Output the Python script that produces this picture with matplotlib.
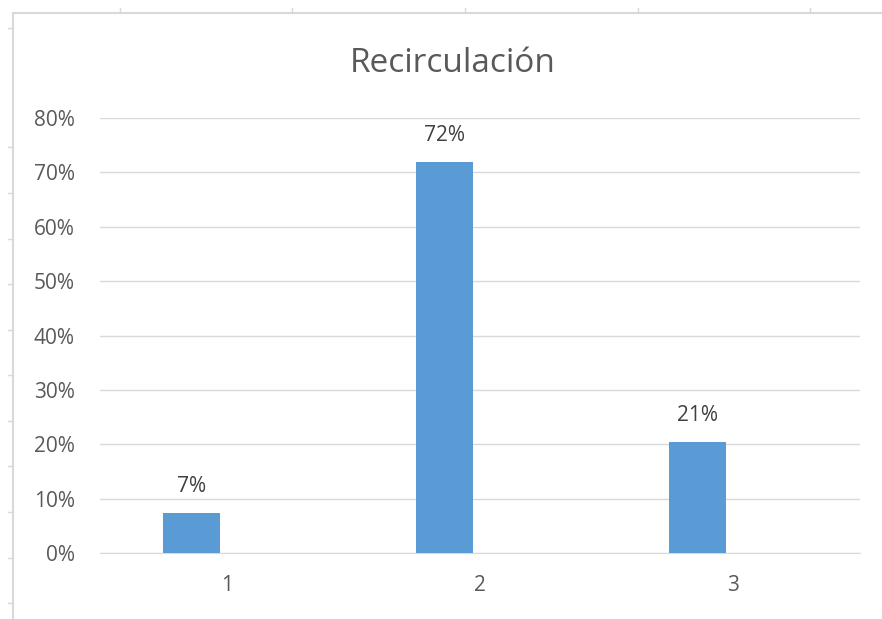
import matplotlib.pyplot as plt
from matplotlib.lines import Line2D

categories = ["1", "2", "3"]
values = [0.073, 0.72, 0.205]
value_labels = ["7%", "72%", "21%"]
y_ticks = [0.0, 0.1, 0.2, 0.3, 0.4, 0.5, 0.6, 0.7, 0.8]

W, H = 882, 619
fig = plt.figure(figsize=(W / 100, H / 100), dpi=100)
plt.rcParams['font.family'] = ['Open Sans', 'DejaVu Sans']

# spreadsheet background bits: chart border and row/column marks
grey = "#d9d9d9"
fig.add_artist(Line2D([13 / W, 1], [1 - 13 / H, 1 - 13 / H], color=grey, lw=1.5))
fig.add_artist(Line2D([13 / W, 13 / W], [0, 1 - 13 / H], color=grey, lw=1.5))
for cx in [120, 292, 465, 638, 810]:
    fig.add_artist(Line2D([cx / W, cx / W], [1 - 8 / H, 1 - 13 / H], color=grey, lw=1))
for ry in [28, 147, 193, 239, 284, 330, 375, 421, 466, 512, 558, 603]:
    fig.add_artist(Line2D([8 / W, 13 / W], [1 - ry / H, 1 - ry / H], color=grey, lw=1))

ax = fig.add_axes([100 / W, 66 / H, 760 / W, (553 - 118) / H])
x = list(range(len(categories)))
bar_x = [i - 0.14 for i in x]
bars = ax.bar(bar_x, values, width=0.225, color="#5B9BD5", zorder=3)

for b, lab in zip(bars, value_labels):
    ax.annotate(lab, (b.get_x() + b.get_width() / 2, b.get_height()),
                xytext=(0, 15), textcoords="offset points",
                ha="center", va="baseline", fontsize=15, color="#404040")

ax.set_xlim(-0.5, 2.5)
ax.set_ylim(0, 0.8)
ax.set_yticks(y_ticks)
ax.set_yticklabels([f"{int(round(v * 100))}%" for v in y_ticks])
ax.set_xticks(x)
ax.set_xticklabels(categories)
ax.tick_params(axis="both", length=0, labelsize=15, labelcolor="#595959")
ax.tick_params(axis="y", pad=18)
ax.tick_params(axis="x", pad=16)
ax.grid(axis="y", color=grey, lw=1, zorder=0)
for s in ["top", "right", "left"]:
    ax.spines[s].set_visible(False)
ax.spines["bottom"].set_color(grey)

fig.text(453 / W, 1 - 72 / H, "Recirculación", ha="center", va="baseline",
         fontsize=24, color="#595959")

fig.savefig("out.png", dpi=100)
